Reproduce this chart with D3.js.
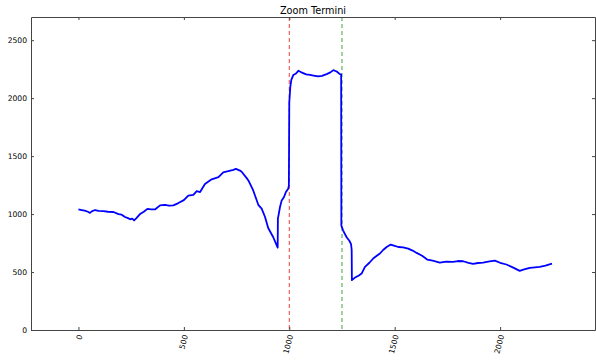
<!DOCTYPE html>
<html>
<head>
<meta charset="utf-8">
<script src="https://cdn.jsdelivr.net/npm/d3@7"></script>
<style>
  body { margin: 0; background: #fff; }
  text { font-family: "DejaVu Sans", sans-serif; fill: #000; }
</style>
</head>
<body>
<div id="chart"></div>
<script>
// data
var xVals = [0, 15, 30, 45, 55, 65, 79, 95, 119, 140, 166, 190, 205, 221, 235, 245, 255, 264, 275, 292,
  310, 327, 345, 363, 387, 410, 430, 450, 474, 500, 521, 545, 561, 577, 600, 632, 664, 687, 710, 735,
  747, 766, 774, 798, 806, 829, 853, 869, 885, 900, 924, 945, 946, 950, 956, 964, 975, 984, 995, 998,
  1000, 1005, 1010, 1019, 1030, 1043, 1055, 1066, 1080, 1098, 1115, 1137, 1155, 1177, 1195, 1209, 1225, 1240, 1246, 1247,
  1255, 1272, 1285, 1293, 1296, 1297, 1310, 1330, 1343, 1359, 1380, 1398, 1415, 1430, 1445, 1462, 1481, 1500, 1517, 1540,
  1564, 1585, 1604, 1630, 1654, 1680, 1714, 1745, 1777, 1800, 1825, 1850, 1872, 1895, 1919, 1950, 1975, 2000, 2030, 2060,
  2093, 2110, 2141, 2165, 2188, 2215, 2246];
var yVals = [1040, 1035, 1030, 1020, 1010, 1025, 1035, 1028, 1025, 1020, 1018, 1000, 995, 975, 965, 955, 960, 945, 965, 1000,
  1020, 1045, 1040, 1040, 1075, 1080, 1072, 1075, 1095, 1120, 1160, 1165, 1198, 1190, 1260, 1300, 1318, 1360, 1370, 1382,
  1390, 1375, 1365, 1310, 1290, 1204, 1080, 1047, 975, 880, 800, 711, 960, 1000, 1061, 1118, 1147, 1190, 1219, 1245,
  1960, 2100, 2160, 2199, 2210, 2236, 2225, 2216, 2205, 2201, 2195, 2187, 2192, 2207, 2222, 2242, 2230, 2207, 2205, 900,
  860, 800, 770, 740, 690, 430, 450, 470, 487, 544, 580, 617, 640, 660, 690, 716, 737, 725, 716, 712,
  702, 685, 665, 640, 608, 598, 582, 590, 588, 595, 593, 580, 570, 578, 582, 592, 599, 580, 565, 540,
  510, 520, 536, 540, 544, 555, 573];
var xTicks = [0, 500, 1000, 1500, 2000];
var yTicks = [0, 500, 1000, 1500, 2000, 2500];
var markers = [1000, 1250];
var markerColors = ["#f04040", "#40a040"];
var title = "Zoom Termini";

var width = 596, height = 360;
var margin = {top: 17, right: 1, bottom: 30, left: 31};
var w = width - margin.left - margin.right;
var h = height - margin.top - margin.bottom;

var svg = d3.select("#chart").append("svg")
  .attr("width", width)
  .attr("height", height);

var g = svg.append("g")
  .attr("transform", "translate(" + margin.left + "," + margin.top + ")");

var x = d3.scaleLinear().domain([-225, 2450]).range([0, w]);
var y = d3.scaleLinear().domain([0, 2700]).range([h, 0]);

// marker lines
markers.forEach(function (m, i) {
  g.append("line")
    .attr("x1", x(m)).attr("x2", x(m))
    .attr("y1", 0).attr("y2", h)
    .style("stroke", markerColors[i])
    .style("stroke-width", 1)
    .style("stroke-dasharray", "4,3");
});

// the series
var pts = xVals.map(function (d, i) { return [d, yVals[i]]; });
g.append("path")
  .datum(pts)
  .attr("d", d3.line().x(function (d) { return x(d[0]); }).y(function (d) { return y(d[1]); }))
  .style("fill", "none")
  .style("stroke", "#0000ff")
  .style("stroke-width", 1.8)
  .style("stroke-linejoin", "round");

// axes, ticks point inward like matplotlib classic
var xb = g.append("g").attr("transform", "translate(0," + h + ")")
  .call(d3.axisBottom(x).tickValues(xTicks).tickSizeInner(-3).tickSizeOuter(0).tickFormat(d3.format("d")));
var xt = g.append("g")
  .call(d3.axisTop(x).tickValues(xTicks).tickSizeInner(-3).tickSizeOuter(0).tickFormat(""));
var yl = g.append("g")
  .call(d3.axisLeft(y).tickValues(yTicks).tickSizeInner(-3).tickSizeOuter(0).tickFormat(d3.format("d")));
var yr = g.append("g").attr("transform", "translate(" + w + ",0)")
  .call(d3.axisRight(y).tickValues(yTicks).tickSizeInner(-3).tickSizeOuter(0).tickFormat(""));

[xb, xt, yl, yr].forEach(function (a) {
  a.select(".domain").style("stroke", "#444").style("stroke-width", 1);
  a.selectAll(".tick line").style("stroke", "#444");
});

yl.selectAll(".tick text")
  .attr("x", -4)
  .style("font-size", "7.6px");

xb.selectAll(".tick text")
  .style("font-size", "7.6px")
  .style("text-anchor", "end")
  .attr("y", 0).attr("dy", "0.35em")
  .attr("transform", "translate(1,5) rotate(-75)")
  .attr("x", 0);

// title
g.append("text")
  .attr("x", w / 2)
  .attr("y", -3)
  .attr("text-anchor", "middle")
  .style("font-size", "9.7px")
  .text(title);
</script>
</body>
</html>
